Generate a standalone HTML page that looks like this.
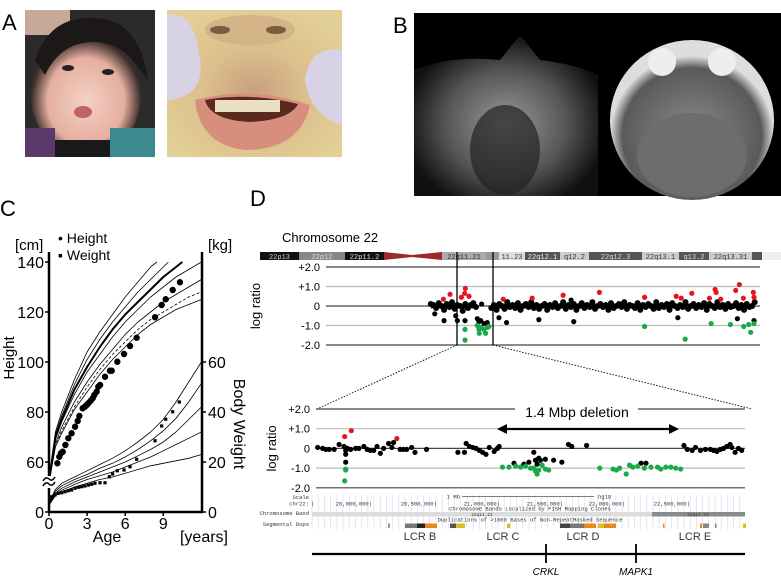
<!DOCTYPE html>
<html><head><meta charset="utf-8"><style>
body{margin:0;background:#fff;}
svg{display:block;font-family:"Liberation Sans",sans-serif;}
.m{font-family:"Liberation Mono",monospace;}
</style></head><body>
<svg id="fig" width="781" height="577" viewBox="0 0 781 577" xmlns="http://www.w3.org/2000/svg">
<defs>
<radialGradient id="face" cx="0.5" cy="0.55" r="0.5"><stop offset="0" stop-color="#f3d2c4"/><stop offset="0.7" stop-color="#e6aea0"/><stop offset="1" stop-color="#3a2c28"/></radialGradient>
<radialGradient id="mouth" cx="0.5" cy="0.55" r="0.6"><stop offset="0" stop-color="#c9a080"/><stop offset="0.5" stop-color="#dcc08c"/><stop offset="1" stop-color="#e3cf98"/></radialGradient>
<radialGradient id="mri1" cx="0.5" cy="0.55" r="0.55"><stop offset="0" stop-color="#9a9a9a"/><stop offset="0.6" stop-color="#555"/><stop offset="1" stop-color="#111"/></radialGradient>
<radialGradient id="mri2" cx="0.5" cy="0.6" r="0.5"><stop offset="0" stop-color="#8a8a8a"/><stop offset="0.85" stop-color="#5a5a5a"/><stop offset="1" stop-color="#ddd"/></radialGradient>
</defs>

<text x="2" y="30" font-size="22">A</text>
<g>
<rect x="25" y="10" width="130" height="147" fill="#2b2b2b"/>
<rect x="25" y="10" width="45" height="25" fill="#c8a89a"/>
<ellipse cx="86" cy="95" rx="55" ry="62" fill="url(#face)"/>
<path d="M35 60 Q50 15 95 18 Q140 20 148 80 L140 70 Q120 40 90 42 Q60 44 45 75 Z" fill="#1c1818"/>
<ellipse cx="68" cy="68" rx="6" ry="3" fill="#222"/><ellipse cx="108" cy="72" rx="6" ry="3" fill="#222"/>
<ellipse cx="83" cy="112" rx="9" ry="6" fill="#c0606a"/>
<rect x="25" y="128" width="30" height="29" fill="#5b3a6b"/>
<rect x="110" y="128" width="45" height="29" fill="#3a8a90"/>
<rect x="55" y="140" width="55" height="17" fill="#1a1a1a"/>
</g>
<g>
<rect x="167" y="10" width="175" height="147" fill="url(#mouth)"/>
<ellipse cx="250" cy="30" rx="45" ry="15" fill="#d4b486"/>
<ellipse cx="220" cy="30" rx="10" ry="4" fill="#7a5a40"/><ellipse cx="276" cy="30" rx="10" ry="4" fill="#7a5a40"/>
<path d="M167 15 Q195 10 200 60 Q205 95 170 100 L167 100 Z" fill="#d8d2e6"/>
<path d="M342 50 Q310 45 305 80 Q310 115 342 125 Z" fill="#d8d2e6"/>
<path d="M195 100 Q250 85 310 105 Q300 150 245 150 Q200 145 195 100 Z" fill="#d88e7c"/>
<path d="M205 100 Q250 92 298 104 Q290 120 250 122 Q210 120 205 100 Z" fill="#5a2a20"/>
<rect x="215" y="100" width="65" height="12" fill="#e8e0c0"/>
</g>

<text x="393" y="33" font-size="22">B</text>
<g>
<rect x="414" y="13" width="367" height="183" fill="#000"/>
<path d="M414 70 Q450 55 500 60 L520 35 L540 60 Q580 65 598 75 L598 196 L414 196 Z" fill="url(#mri1)"/>
<ellipse cx="505" cy="150" rx="35" ry="45" fill="#222" opacity="0.7"/>
<ellipse cx="692" cy="120" rx="82" ry="80" fill="url(#mri2)"/>
<circle cx="662" cy="62" r="14" fill="#eee"/><circle cx="722" cy="62" r="14" fill="#eee"/>
<ellipse cx="692" cy="155" rx="55" ry="42" fill="#6d6d6d"/>
</g>

<text x="0" y="216" font-size="22">C</text>
<g id="growth"></g>

<text x="250" y="206" font-size="22">D</text>
<text x="282" y="242" font-size="13">Chromosome 22</text>
<g id="ideo"></g>
<g id="topchart"></g>
<g id="botchart"></g>
<g id="tracks"></g>
</svg>
<script>
const refAges=[0,0.5,1,2,3,4,5,6,7,8,9,10,11,12];
const hRef1=[52,72,80,93,104,112,119,126,132,138,142,147,150,153];
const hRef2=[51.5,71,78.5,91,101,109,116,122,128,133,138,143,146,149];
const hRef3=[51,70,77,89,98,106,113,119,124,129,134,138,142,145];
const hRef4=[50.5,69,76,87,96,103,110,116,121,126,130,134,137,140];
const hRef5=[50,67.5,74,84,92,99,105,111,116,120,124,127,130,133];
const hRef6=[49.5,66.5,72.5,82,90,97,103,108,113,117,120,123,126,128];
const hRef7=[49,66,71.5,81,88,95,101,106,111,115,118,121,123,125];
const wRef1=[4,9,11.5,14,16.5,19,21.5,24.5,28,32,37,44,52,60];
const wRef2=[3.7,8.3,10.5,13,15,17.5,19.5,22,25,28.5,32.5,37.5,44,51.5];
const wRef3=[3.3,7.6,9.5,12,14,16,18,20,22.5,25,28,32,37,42];
const wRef4=[3,7,8.7,11,13,14.5,16,18,20,22,24.5,27,29.5,32];
const wRef5=[2.7,6.5,8,10,11.5,13,14,15.5,17,18.5,19.5,20.5,21.5,23];
const hAges=[0.66,0.81,0.94,1.08,1.29,1.52,1.78,2.05,2.26,2.39,2.65,2.83,2.97,3.1,3.28,3.44,3.57,3.75,3.88,4.02,4.41,4.8,4.94,5.38,5.91,6.38,6.9,8.35,8.87,9.19,9.74,10.31];
const hVals=[59.5,62.1,63.5,64.1,66.8,69.5,71.5,74.1,76.4,78.4,81.5,82.1,82.8,83.5,84.5,85.5,86.8,88.1,90.1,90.8,94.1,96.5,96.5,100.1,103.2,106.4,109.7,117.9,122.8,125.1,128.8,131.9];
const wAges=[0.21,0.47,0.73,1.0,1.26,1.52,1.78,2.05,2.31,2.57,2.83,3.1,3.36,3.62,4.02,4.41,4.75,5.01,5.38,5.91,6.38,6.9,8.35,8.87,9.19,9.74,10.26];
const wVals=[6.1,6.8,7.5,7.7,8.1,8.5,8.8,9.5,9.9,10.1,10.4,10.8,11.1,11.5,11.7,11.7,14.1,15.2,16.5,16.8,18.1,21.1,28.5,34.4,37.1,40.1,44];
const hTicks=[60,80,100,120,140];
const wTicks=[0,20,40,60];
const ageTicks=[0,3,6,9];

const topRedPos=[578,598,632,642,644,655,758,845,938,1047,1183,1278,1293,1325,1378,1395,1398,1412,1457,1468,1480,1510,1512];
const topRedVal=[0.35,0.6,0.45,0.65,0.9,0.5,0.35,0.4,0.55,0.7,0.45,0.5,0.4,0.65,0.4,0.85,0.7,0.35,0.8,1.1,0.4,0.7,0.45];
const topGreenPos=[643,643,680,685,686,690,700,705,710,715,1183,1305,1383,1441,1481,1496,1502,1512];
const topGreenVal=[-1.2,-1.75,-1.0,-1.2,-1.4,-1.1,-1.2,-1.4,-1.1,-1.05,-1.05,-1.7,-0.9,-0.95,-1.05,-0.95,-1.35,-0.9];
const topBlackPos=[552,580,615,620,643,680,690,710,693,745,768,865,970,1283,1462,1512,962,685,700];
const topBlackVal=[-0.4,-0.75,-0.5,-0.75,-0.75,-0.65,-0.75,-0.85,0.1,-0.6,-0.85,-0.7,-0.8,-0.6,-0.65,-0.75,0.3,-0.8,-0.9];
const cloudStartA=540, cloudStartB=722, cloudStep=8;
const cloudValA=[0.1,0.05,-0.1,0.15,0,-0.2,0.1,-0.05,0.2,-0.15,0.05,0,-0.25,0.1,-0.1,0.05,0.15,-0.05];
const cloudValB=[-0.1,0.05,-0.2,0.1,0,-0.15,0.2,-0.05,0.05,-0.1,0.15,-0.2,0,0.1,-0.05,0.2,-0.1,0.05,-0.15,0,0.1,-0.2,0.05,-0.05,0.15,-0.1,0,0.2,-0.15,0.05,-0.05,0.1,-0.2,0,0.15,-0.1,0.05,-0.05,0.2,-0.15,0,0.1,-0.05,0.05,-0.2,0.15,-0.1,0,0.1,-0.05,0.2,-0.15,0.05,0,-0.1,0.15,-0.2,0.05,-0.05,0.1,0,-0.15,0.2,-0.1,0.05,-0.05,0.1,-0.2,0.15,0,-0.1,0.05,-0.05,0.2,-0.15,0,0.1,-0.1,0.05,-0.05,0.15,-0.2,0.1,0,-0.1,0.2,-0.05,0.05,-0.15,0.1,-0.05,0,0.15,-0.1,0.05,-0.2,0.1,-0.05,0,0.2];
const botBlackPos=[190,205,215,225,240,255,270,275,275,275,280,290,305,315,330,340,350,360,370,380,390,405,415,420,440,450,460,475,485,520,615,635,640,650,660,670,680,690,700,710,725,735,740,785,815,830,845,850,855,860,865,880,905,930,950,960,1005,1170,1185,1300,1310,1325,1335,1350,1365,1380,1390,1400,1410,1420,1430,1440,1445,1455,1465,1475];
const botBlackVal=[0.05,0,-0.05,-0.05,-0.05,0.2,0.1,-0.1,-0.3,-0.7,0,-0.05,0,0,0.1,-0.05,-0.1,-0.1,0.1,-0.25,0,0.25,0.05,0.3,-0.05,-0.05,-0.05,0.05,-0.2,-0.05,-0.2,-0.2,0.25,0.1,0.05,0,-0.1,-0.2,-0.3,0.05,-0.15,0,0.1,-0.75,-0.8,-0.7,-0.2,-0.6,-0.8,-0.5,-0.6,-0.55,-0.6,-0.7,0.2,0.1,0.15,-0.75,-0.75,0.15,-0.05,-0.1,0.05,-0.1,-0.05,-0.05,-0.1,-0.15,-0.05,0,0.1,0.2,0.05,-0.2,0,-0.1];
const botRedPos=[272,292,430];
const botRedVal=[0.6,0.9,0.5];
const botGreenPos=[275,275,272,750,770,790,805,820,835,845,850,855,860,870,880,890,1045,1085,1095,1105,1125,1135,1145,1160,1180,1200,1220,1230,1245,1260,1275,1290];
const botGreenVal=[-1.05,-1.1,-1.65,-0.95,-0.95,-0.9,-0.95,-0.9,-1.0,-1.0,-1.15,-1.3,-1.1,-0.85,-1.05,-1.1,-1.0,-1.05,-1.1,-1.0,-1.3,-0.85,-0.95,-0.9,-1.0,-0.95,-0.95,-1.05,-0.95,-0.95,-1.0,-1.05];
const ratioTicks=[2,1,0,-1,-2];
const ratioLabels=["+2.0","+1.0","0","-1.0","-2.0"];

const NS="http://www.w3.org/2000/svg";
function mk(p,tag,a,txt){const e=document.createElementNS(NS,tag);for(const k in a)e.setAttribute(k,a[k]);if(txt!==undefined)e.textContent=txt;p.appendChild(e);return e;}

(function(){
const g=document.getElementById('growth');
const ax=a=>49+a*12.7;
const hy=c=>462-(c-60)*2.5;
const wy=k=>512-k*2.5;
function clipLine(ages,vals,fy,w,dash,name){
  let pts=[];for(let i=0;i<ages.length;i++){let x=ax(ages[i]),y=fy(vals[i]);
    if(y<262&&i>0){const px=ax(ages[i-1]),py=fy(vals[i-1]);const t=(py-262)/(py-y);pts.push([px+(x-px)*t,262]);break;}pts.push([x,y]);}
  const e=mk(g,'path',{d:'M'+pts.map(p=>p[0].toFixed(1)+' '+p[1].toFixed(1)).join('L'),fill:'none',stroke:'#000','stroke-width':w,'stroke-dasharray':dash||'none'});
  
  
}
[[hRef1,0.8,''],[hRef2,0.8,''],[hRef3,2,''],[hRef4,0.8,''],[hRef5,0.8,''],[hRef6,0.8,'3,2'],[hRef7,0.8,'']].forEach(c=>{
  clipLine(refAges,c[0],v=>v<55?483-(v-49)*1.0:hy(v),c[1],c[2],'height-reference-curve');
});
[wRef1,wRef2,wRef3,wRef4,wRef5].forEach(v=>clipLine(refAges,v,wy,0.8,'','weight-reference-curve'));
let e=mk(g,'line',{x1:49,y1:252,x2:49,y2:512,stroke:'#000','stroke-width':2.5});
e=mk(g,'line',{x1:202,y1:252,x2:202,y2:512,stroke:'#000','stroke-width':2.5});
e=mk(g,'line',{x1:48,y1:512,x2:203,y2:512,stroke:'#000','stroke-width':2.5});
e=mk(g,'rect',{x:43,y:476,width:12,height:12,fill:'#fff'});
e=mk(g,'path',{d:'M43 486 q3 -5 6 -2 t6 -2 M43 481 q3 -5 6 -2 t6 -2',fill:'none',stroke:'#000','stroke-width':1.5});
hTicks.forEach(t=>{mk(g,'line',{x1:45,x2:49,y1:hy(t),y2:hy(t),stroke:'#000','stroke-width':1.5});
  e=mk(g,'text',{x:44,y:hy(t)+6,'font-size':16,'text-anchor':'end'},String(t));});
e=mk(g,'text',{x:44,y:518,'font-size':16,'text-anchor':'end'},'0');
mk(g,'line',{x1:45,x2:49,y1:512,y2:512,stroke:'#000','stroke-width':1.5});
wTicks.forEach(t=>{mk(g,'line',{x1:202,x2:206,y1:wy(t),y2:wy(t),stroke:'#000','stroke-width':1.5});
  e=mk(g,'text',{x:208,y:wy(t)+6,'font-size':16},String(t));});
ageTicks.forEach(t=>{mk(g,'line',{x1:ax(t),x2:ax(t),y1:512,y2:516,stroke:'#000','stroke-width':1.5});
  e=mk(g,'text',{x:ax(t),y:529,'font-size':16,'text-anchor':'middle'},String(t));});
hAges.forEach((a,i)=>{e=mk(g,'circle',{cx:ax(a),cy:hy(hVals[i]),r:3.2,fill:'#000'});});
wAges.forEach((a,i)=>{e=mk(g,'rect',{x:ax(a)-1.6,y:wy(wVals[i])-1.6,width:3.2,height:3.2,fill:'#000'});});
const T=(x,y,s,t,name,extra)=>{const el=mk(g,'text',Object.assign({x:x,y:y,'font-size':s},extra||{}),t);return el;};
T(15,250,15,'[cm]','height-unit');T(208,250,15,'[kg]','weight-unit');
T(58,243,14,'• Height','legend-height');T(58,260,14,'▪ Weight','legend-weight');
T(107,542,16,'Age','age-axis-title',{'text-anchor':'middle'});
T(228,542,16,'[years]','age-unit',{'text-anchor':'end'});
T(14,358,15,'Height','height-axis-title',{'text-anchor':'middle',transform:'rotate(-90 14 358)'});
T(234,424,16,'Body Weight','weight-axis-title',{'text-anchor':'middle',transform:'rotate(90 234 424)'});
})();

(function(){
const g=document.getElementById('ideo');
const bands=[[260,299,'#111','22p13','#ccc'],[299,345,'#888','22p12','#ddd'],[345,384,'#111','22p11.2','#ddd'],[442,486,'#aaa','22q11.21','#333'],[486,499,'#999','',''],[499,525,'#ddd','11.23','#333'],[525,560,'#555','22q12.1','#eee'],[560,589,'#ccc','q12.2','#333'],[589,642,'#555','22q12.3','#ddd'],[642,679,'#ccc','22q13.1','#333'],[679,709,'#555','q13.2','#ddd'],[709,752,'#ccc','22q13.31','#333'],[752,762,'#555','',''],[762,781,'#eee','','']];
bands.forEach(b=>{let e=mk(g,'rect',{x:b[0],y:252,width:b[1]-b[0],height:8,fill:b[2]});
 if(b[3]){e=mk(g,'text',{x:(b[0]+b[1])/2,y:259,'font-size':7,'text-anchor':'middle',fill:b[4],class:'m'},b[3]);}});
let e=mk(g,'path',{d:'M384 252 L412 255 L442 252 L442 260 L412 257 L384 260 Z',fill:'#9a2a2a'});
})();

function ratioPlot(id,x0,x1,y2,yStep,d0,d1,labelX,gap){
 const g=document.getElementById(id);
 const sx=v=>x0+(v-d0)/(d1-d0)*(x1-x0);
 const sy=v=>y2+(2-v)*yStep;
 ratioTicks.forEach((t,i)=>{
  const col=(t===2||t===-2||t===0)?'#444':'#bbb';
  if(gap&&t===2){mk(g,'line',{x1:x0,x2:gap[0],y1:sy(t),y2:sy(t),stroke:col,'stroke-width':1.2});mk(g,'line',{x1:gap[1],x2:x1,y1:sy(t),y2:sy(t),stroke:col,'stroke-width':1.2});}
  else {let e=mk(g,'line',{x1:x0,x2:x1,y1:sy(t),y2:sy(t),stroke:col,'stroke-width':1.2});}
  let e=mk(g,'text',{x:x0-6,y:sy(t)+4,'font-size':11,'text-anchor':'end'},ratioLabels[i]);
 });
 let e=mk(g,'text',{x:labelX,y:(sy(0)),'font-size':13,'text-anchor':'middle',transform:'rotate(-90 '+labelX+' '+sy(0)+')'},'log ratio');
 return {g,sx,sy};
}
function dots(p,pos,val,col,r,name){pos.forEach((x,i)=>{const e=mk(p.g,'circle',{cx:p.sx(x),cy:p.sy(val[i]),r:r,fill:col});});}

const topPlot=ratioPlot('topchart',326,760,267,19.5,225,1530,260,null);
cloudValA.forEach((v,i)=>{const x=cloudStartA+i*cloudStep;const e=mk(topPlot.g,'circle',{cx:topPlot.sx(x),cy:topPlot.sy(v),r:3,fill:'#000'});});
cloudValB.forEach((v,i)=>{const x=cloudStartB+i*cloudStep;const e=mk(topPlot.g,'circle',{cx:topPlot.sx(x),cy:topPlot.sy(v),r:3,fill:'#000'});});
mk(topPlot.g,'rect',{x:topPlot.sx(cloudStartA),y:topPlot.sy(0.12),width:topPlot.sx(cloudStartA+cloudStep*(cloudValA.length-1))-topPlot.sx(cloudStartA),height:topPlot.sy(-0.12)-topPlot.sy(0.12),fill:'#000'});
mk(topPlot.g,'rect',{x:topPlot.sx(cloudStartB),y:topPlot.sy(0.12),width:topPlot.sx(cloudStartB+cloudStep*(cloudValB.length-1))-topPlot.sx(cloudStartB),height:topPlot.sy(-0.12)-topPlot.sy(0.12),fill:'#000'});
dots(topPlot,topBlackPos,topBlackVal,'#000',2.6,'probe-point');
dots(topPlot,topRedPos,topRedVal,'#e8141c',2.6,'gain-point');
dots(topPlot,topGreenPos,topGreenVal,'#1aa84a',2.6,'loss-point');
(function(){const g=topPlot.g;
 let e=mk(g,'line',{x1:457,x2:457,y1:252,y2:345,stroke:'#000','stroke-width':1.3});
 e=mk(g,'line',{x1:493,x2:493,y1:252,y2:345,stroke:'#000','stroke-width':1.3});
 e=mk(g,'line',{x1:457,y1:345,x2:317,y2:409,stroke:'#000','stroke-width':0.9,'stroke-dasharray':'1.5,1.5'});
 e=mk(g,'line',{x1:493,y1:345,x2:752,y2:409,stroke:'#000','stroke-width':0.9,'stroke-dasharray':'1.5,1.5'});
})();

const botPlot=ratioPlot('botchart',316,745,409,19.7,185,1485,276,[515,638]);
dots(botPlot,botBlackPos,botBlackVal,'#000',2.6,'probe-point');
dots(botPlot,botRedPos,botRedVal,'#e8141c',2.6,'gain-point');
dots(botPlot,botGreenPos,botGreenVal,'#1aa84a',2.6,'loss-point');
(function(){const g=botPlot.g;
 let e=mk(g,'text',{x:577,y:417,'font-size':14,'text-anchor':'middle'},'1.4 Mbp deletion');
 e=mk(g,'line',{x1:504,x2:672,y1:429,y2:429,stroke:'#000','stroke-width':2.2});
 mk(g,'path',{d:'M497 429 L507 424 L507 434 Z',fill:'#000'});mk(g,'path',{d:'M679 429 L669 424 L669 434 Z',fill:'#000'});
})();

(function(){const g=document.getElementById('tracks');
 for(let x=312;x<=745;x+=6.2){mk(g,'line',{x1:x,x2:x,y1:495,y2:529,stroke:'#dde0f2','stroke-width':0.8});}
 const ticks=[[372,'20,000,000|'],[437,'20,500,000|'],[500,'21,000,000|'],[563,'21,500,000|'],[625,'22,000,000|'],[690,'22,500,000|']];
 const T=(x,y,t,a,name,fs)=>{const e=mk(g,'text',{x:x,y:y,'font-size':fs||5.5,'text-anchor':a||'start',class:'m',fill:'#333'},t);};
 T(309,499,'Scale','end','scale-label');T(309,505.5,'chr22:','end','chr-label');T(309,515,'Chromosome Band','end','band-track-label');T(309,526,'Segmental Dups','end','dups-track-label');
 T(460,498.5,'1 Mb','end','scale-bar-label');mk(g,'line',{x1:462,x2:594,y1:496.5,y2:496.5,stroke:'#555','stroke-width':0.8});T(598,498.5,'hg19','start','assembly-label');
 T(311,505.5,'|','start','chr-start');
 ticks.forEach(t=>T(t[0],505.5,t[1],'end','chr-position-label'));
 T(530,510.5,'Chromosome Bands Localized by FISH Mapping Clones','middle','band-track-title');
 let e=mk(g,'rect',{x:312,y:512,width:340,height:4.5,fill:'#dcdcdc'});
 e=mk(g,'rect',{x:652,y:512,width:93,height:4.5,fill:'#8a8a8a'});
 T(482,516,'22q11.21','middle','band-name',4.5);T(698,516,'22q11.22','middle','band-name',4.5);
 T(530,521.5,'Duplications of >1000 Bases of Non-RepeatMasked Sequence','middle','dups-track-title');
 const dups=[[388,2,'#999'],[405,12,'#777'],[417,8,'#222'],[425,12,'#e88a1a'],[450,6,'#555'],[456,9,'#d9c020'],[507,3,'#d9c020'],[560,10,'#444'],[570,14,'#777'],[584,12,'#e88a1a'],[598,6,'#d9c020'],[604,12,'#e88a1a'],[663,1.5,'#e88a1a'],[700,2,'#e88a1a'],[703,6,'#888'],[715,1.5,'#888'],[743,3,'#d9c020']];
 dups.forEach(d=>{const r=mk(g,'rect',{x:d[0],y:523.5,width:d[1],height:4.5,fill:d[2]});});
 [[420,'LCR B'],[503,'LCR C'],[583,'LCR D'],[695,'LCR E']].forEach(l=>{const t=mk(g,'text',{x:l[0],y:540,'font-size':11,'text-anchor':'middle',fill:'#333'},l[1]);});
 e=mk(g,'line',{x1:312,x2:745,y1:554,y2:554,stroke:'#000','stroke-width':2.2});
 [[546,'CRKL'],[636,'MAPK1']].forEach(l=>{let k=mk(g,'line',{x1:l[0],x2:l[0],y1:544,y2:563,stroke:'#000','stroke-width':1.8});
  const t=mk(g,'text',{x:l[0],y:575,'font-size':10,'font-style':'italic','text-anchor':'middle'},l[1]);});
})();
</script>
</body></html>
